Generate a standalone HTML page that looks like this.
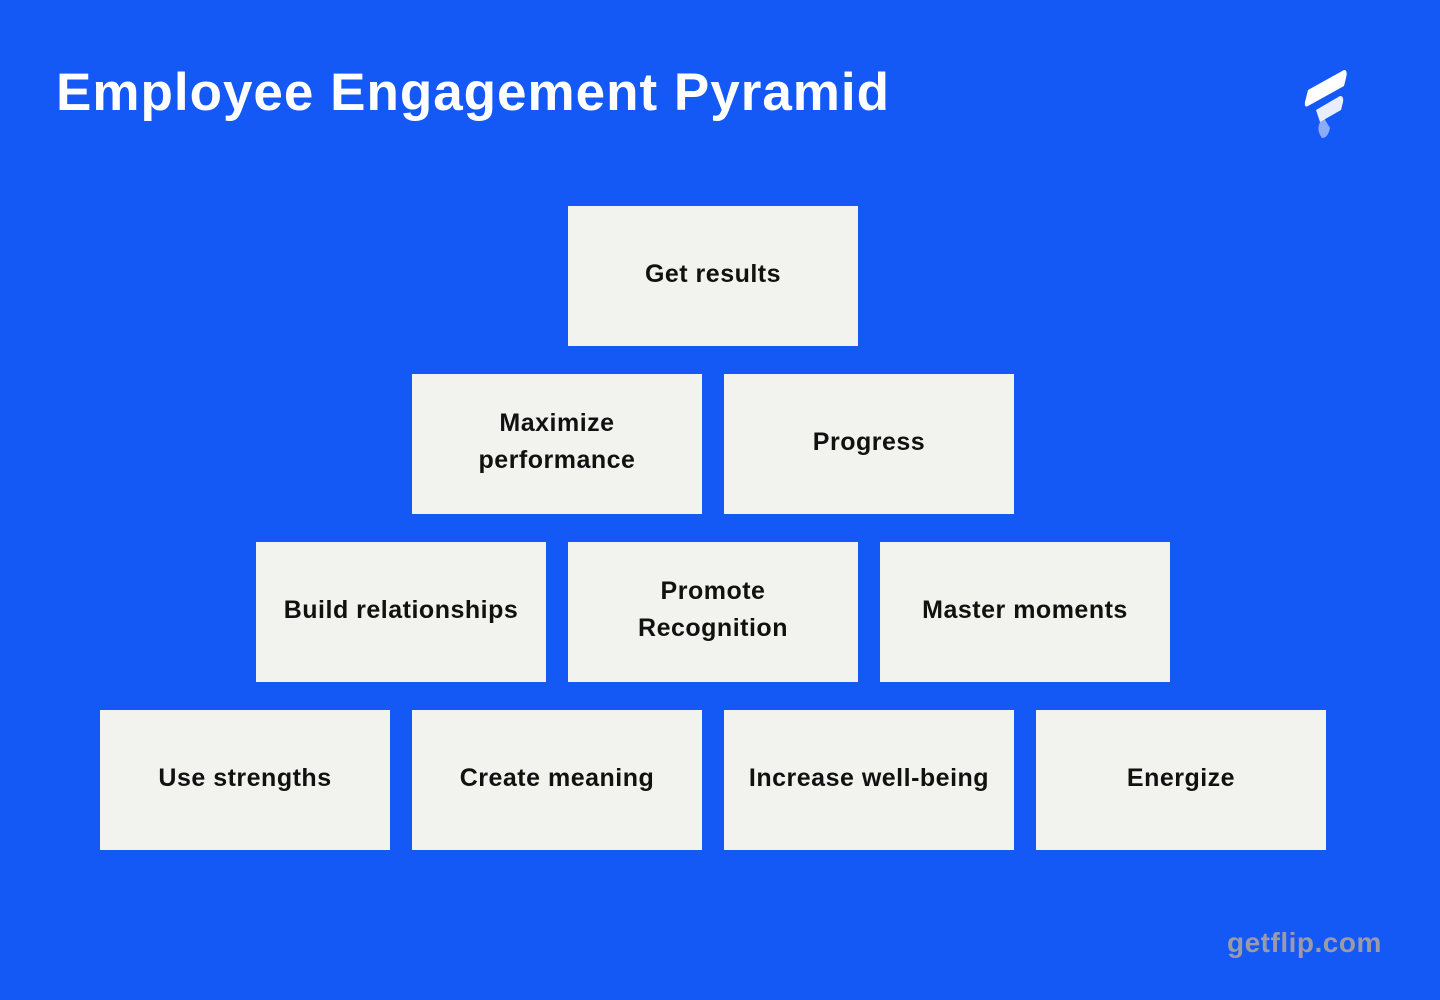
<!DOCTYPE html>
<html><head><style>
body{margin:0;width:1440px;height:1000px;background:#1458F5;position:relative;overflow:hidden;font-family:"Liberation Sans",sans-serif;}
h1{position:absolute;left:56px;top:58px;margin:0;color:#fff;font-size:53px;font-weight:bold;letter-spacing:1px;line-height:70px;}
.b{position:absolute;width:290px;height:140px;background:#F2F2EE;display:flex;align-items:center;justify-content:center;text-align:center;font-weight:bold;font-size:25px;letter-spacing:0.5px;line-height:37px;color:#111;padding-bottom:4px;box-sizing:border-box;}
.f{position:absolute;left:1227px;top:927px;color:#9a9aa8;font-weight:bold;font-size:28px;letter-spacing:0.5px;}
</style></head><body>
<h1>Employee Engagement Pyramid</h1>
<svg style="position:absolute;left:1300px;top:66px" width="50" height="76" viewBox="0 0 50 76">
<path d="M8 24 L44 4 Q48 4 46 12 L44 20 L8 40 Q4 42 5 36 Z" fill="#fff"/>
<path d="M16 44 L40 30 Q44 30 43 36 L41 44 L20 56 Z" fill="#fff" opacity="0.9"/>
<path d="M20 56 L24 52 L30 62 Q28 72 22 72 Q16 64 20 56Z" fill="#fff" opacity="0.5"/>
</svg>
<div class="b" style="left:568px;top:206px">Get results</div>
<div class="b" style="left:412px;top:374px">Maximize<br>performance</div>
<div class="b" style="left:724px;top:374px">Progress</div>
<div class="b" style="left:256px;top:542px">Build relationships</div>
<div class="b" style="left:568px;top:542px">Promote<br>Recognition</div>
<div class="b" style="left:880px;top:542px">Master moments</div>
<div class="b" style="left:100px;top:710px">Use strengths</div>
<div class="b" style="left:412px;top:710px">Create meaning</div>
<div class="b" style="left:724px;top:710px">Increase well-being</div>
<div class="b" style="left:1036px;top:710px">Energize</div>
<div class="f">getflip.com</div>
</body></html>
